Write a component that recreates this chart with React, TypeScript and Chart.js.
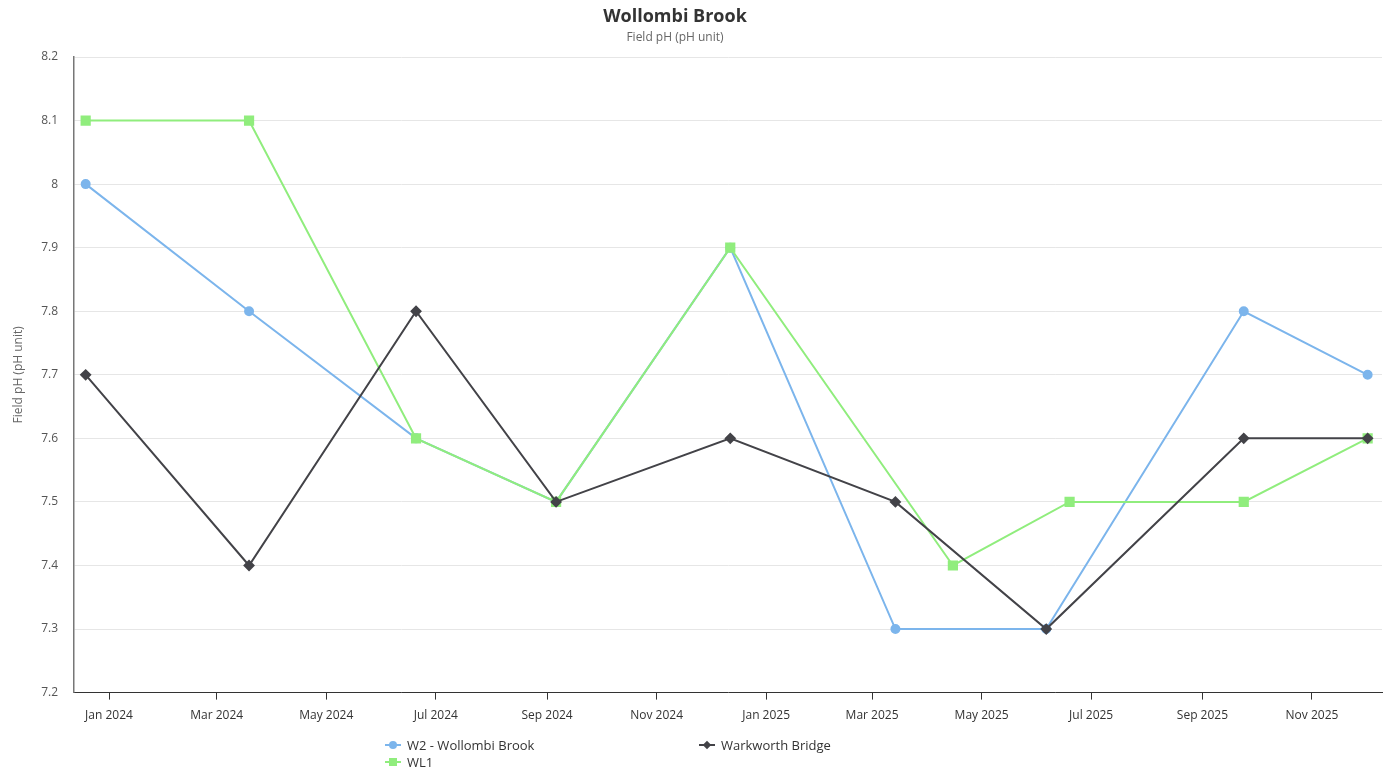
import React, { useEffect, useRef } from "react";
import { Chart, registerables } from "chart.js";

Chart.register(...registerables);

const W2_DATES = ["2023-12-19", "2024-03-19", "2024-06-20", "2024-09-06", "2024-12-12", "2025-03-14", "2025-06-06", "2025-09-24", "2025-12-02"];
const W2_VALUES = [8.0, 7.8, 7.6, 7.5, 7.9, 7.3, 7.3, 7.8, 7.7];

const WL1_DATES = ["2023-12-19", "2024-03-19", "2024-06-20", "2024-09-06", "2024-12-12", "2025-04-15", "2025-06-19", "2025-09-24", "2025-12-02"];
const WL1_VALUES = [8.1, 8.1, 7.6, 7.5, 7.9, 7.4, 7.5, 7.5, 7.6];

const WB_DATES = ["2023-12-19", "2024-03-19", "2024-06-20", "2024-09-06", "2024-12-12", "2025-03-14", "2025-06-06", "2025-09-24", "2025-12-02"];
const WB_VALUES = [7.7, 7.4, 7.8, 7.5, 7.6, 7.5, 7.3, 7.6, 7.6];

const X_TICK_DATES = ["2024-01-01", "2024-03-01", "2024-05-01", "2024-07-01", "2024-09-01", "2024-11-01", "2025-01-01", "2025-03-01", "2025-05-01", "2025-07-01", "2025-09-01", "2025-11-01"];
const X_MIN = "2023-12-12T12:00:00Z";
const X_MAX = "2025-12-10T00:00:00Z";
const Y_MIN = 7.2;
const Y_MAX = 8.2;

const TITLE = "Wollombi Brook";
const SUBTITLE = "Field pH (pH unit)";
const Y_TITLE = "Field pH (pH unit)";

const MONTHS = ["Jan", "Feb", "Mar", "Apr", "May", "Jun", "Jul", "Aug", "Sep", "Oct", "Nov", "Dec"];

const BLUE = "#7cb5ec";
const GREEN = "#90ed7d";
const DARK = "#434348";
const FONT = "'Open Sans', 'Noto Sans', sans-serif";

const ts = (d: string) => Date.parse(d.length === 10 ? d + "T00:00:00Z" : d);
const toPoints = (dates: string[], vals: number[]) => dates.map((d, i) => ({ x: ts(d), y: vals[i] }));

export default function App() {
  const ref = useRef<HTMLCanvasElement | null>(null);

  useEffect(() => {
    if (!ref.current) return;
    const chart = new Chart(ref.current, {
      type: "line",
      data: {
        datasets: [
          {
            label: "W2 - Wollombi Brook",
            data: toPoints(W2_DATES, W2_VALUES),
            borderColor: BLUE,
            backgroundColor: BLUE,
            pointStyle: "circle",
            pointRadius: 4,
            borderWidth: 2,
            order: 3,
          },
          {
            label: "WL1",
            data: toPoints(WL1_DATES, WL1_VALUES),
            borderColor: GREEN,
            backgroundColor: GREEN,
            pointStyle: "rect",
            pointRadius: 5.8,
            borderWidth: 2,
            order: 2,
          },
          {
            label: "Warkworth Bridge",
            data: toPoints(WB_DATES, WB_VALUES),
            borderColor: DARK,
            backgroundColor: DARK,
            pointStyle: "rectRot",
            pointRadius: 4.5,
            borderWidth: 2,
            order: 1,
          },
        ],
      },
      options: {
        animation: false,
        responsive: false,
        maintainAspectRatio: false,
        layout: { padding: { top: 57, right: 9, bottom: 39, left: 0 } },
        plugins: {
          legend: { display: false },
          title: { display: false },
          tooltip: { enabled: false },
        },
        elements: { line: { tension: 0 } },
        scales: {
          x: {
            type: "linear",
            min: ts(X_MIN),
            max: ts(X_MAX),
            afterBuildTicks: (scale: any) => {
              scale.ticks = X_TICK_DATES.map((d) => ({ value: ts(d) }));
            },
            ticks: {
              autoSkip: false,
              maxRotation: 0,
              padding: 9,
              color: "#333",
              font: { family: FONT, size: 12 },
              callback: (v: any) => {
                const d = new Date(Number(v));
                return MONTHS[d.getUTCMonth()] + " " + d.getUTCFullYear();
              },
            },
            grid: { display: true, drawOnChartArea: false, drawTicks: true, tickLength: 7, color: "#333", lineWidth: 1 },
            border: { display: true, color: "#333", width: 1 },
          },
          y: {
            min: Y_MIN,
            max: Y_MAX,
            afterFit: (scale: any) => {
              scale.width = 74;
            },
            ticks: {
              stepSize: 0.1,
              padding: 16,
              color: "#555",
              font: { family: FONT, size: 12 },
              callback: (v: any) => String(Math.round(Number(v) * 10) / 10),
            },
            grid: { color: "#e6e6e6", drawTicks: false, lineWidth: 1 },
            border: { display: true, color: "#777", width: 1.5 },
            title: {
              display: true,
              text: Y_TITLE,
              color: "#666",
              font: { family: FONT, size: 12 },
              padding: { top: 11, bottom: 0 },
            },
          },
        },
      },
    });
    return () => chart.destroy();
  }, []);

  const legendItem = (color: string, style: "circle" | "rect" | "diamond") => {
    const marker: React.CSSProperties =
      style === "circle"
        ? { width: 8, height: 8, borderRadius: 4, background: color }
        : style === "rect"
        ? { width: 8, height: 8, background: color }
        : { width: 6, height: 6, background: color, transform: "rotate(45deg)" };
    return (
      <span style={{ position: "relative", display: "inline-block", width: 16, height: 12, marginRight: 6, verticalAlign: "middle" }}>
        <span style={{ position: "absolute", left: 0, top: 5, width: 16, height: 2, background: color }} />
        <span style={{ position: "absolute", left: 8, top: 6, marginLeft: -(style === "diamond" ? 3 : 4), marginTop: -(style === "diamond" ? 3 : 4), ...marker }} />
      </span>
    );
  };

  const legendText: React.CSSProperties = { fontFamily: FONT, fontSize: 13, color: "#333", verticalAlign: "middle" };

  return (
    <div style={{ position: "fixed", left: 0, top: 0, width: 1391, height: 771, background: "#fff" }}>
      <canvas ref={ref} width={1391} height={771} style={{ position: "absolute", left: 0, top: 0, width: 1391, height: 771 }} />
      <div style={{ position: "absolute", left: 0, top: 3, width: 1350, textAlign: "center", fontFamily: FONT, fontWeight: 700, fontSize: 18, color: "#333" }}>
        {TITLE}
      </div>
      <div style={{ position: "absolute", left: 0, top: 28, width: 1350, textAlign: "center", fontFamily: FONT, fontSize: 12, color: "#666" }}>
        {SUBTITLE}
      </div>
      <div style={{ position: "absolute", left: 385, top: 736, whiteSpace: "nowrap", lineHeight: "16px" }}>
        {legendItem(BLUE, "circle")}
        <span style={legendText}>W2 - Wollombi Brook</span>
      </div>
      <div style={{ position: "absolute", left: 699, top: 736, whiteSpace: "nowrap", lineHeight: "16px" }}>
        {legendItem(DARK, "diamond")}
        <span style={legendText}>Warkworth Bridge</span>
      </div>
      <div style={{ position: "absolute", left: 385, top: 753, whiteSpace: "nowrap", lineHeight: "16px" }}>
        {legendItem(GREEN, "rect")}
        <span style={legendText}>WL1</span>
      </div>
    </div>
  );
}
